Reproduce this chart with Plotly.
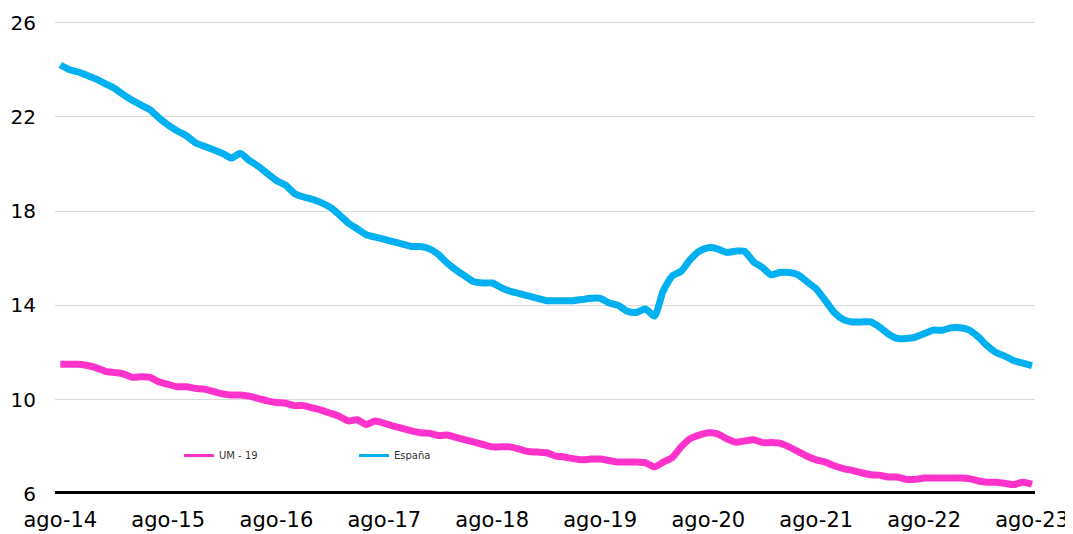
import pandas as pd
import plotly.graph_objects as go

# Monthly series, ago-14 .. ago-23 (109 points)
months = pd.date_range("2014-08-01", "2023-08-01", freq="MS")

espana = [
    24.2, 24.0, 23.9, 23.75, 23.6, 23.4, 23.2, 22.95, 22.7, 22.5, 22.3, 21.95,
    21.65, 21.4, 21.2, 20.9, 20.75, 20.6, 20.45, 20.25, 20.45, 20.15, 19.9, 19.6,
    19.3, 19.1, 18.75, 18.6, 18.5, 18.35, 18.15, 17.85, 17.5, 17.25, 17.0, 16.9,
    16.8, 16.7, 16.6, 16.5, 16.5, 16.4, 16.15, 15.8, 15.5, 15.25, 15.0, 14.95,
    14.95, 14.75, 14.6, 14.5, 14.4, 14.3, 14.2, 14.2, 14.2, 14.2, 14.25, 14.3,
    14.3, 14.1, 14.0, 13.75, 13.7, 13.85, 13.55, 14.6, 15.25, 15.45, 15.95, 16.3,
    16.45, 16.4, 16.25, 16.3, 16.3, 15.85, 15.6, 15.3, 15.4, 15.4, 15.3, 15.0,
    14.7, 14.2, 13.7, 13.4, 13.3, 13.3, 13.3, 13.1, 12.8, 12.6, 12.6, 12.65,
    12.8, 12.95, 12.95, 13.05, 13.05, 12.95, 12.65, 12.3, 12.0, 11.85, 11.65, 11.55,
    11.45,
]

um19 = [
    11.5, 11.5, 11.5, 11.45, 11.35, 11.2, 11.15, 11.1, 10.95, 10.97, 10.95, 10.75,
    10.65, 10.55, 10.55, 10.48, 10.45, 10.35, 10.25, 10.2, 10.2, 10.15, 10.05, 9.95,
    9.88, 9.85, 9.75, 9.75, 9.65, 9.55, 9.42, 9.3, 9.1, 9.15, 8.95, 9.1,
    9.0, 8.88, 8.78, 8.68, 8.6, 8.58, 8.48, 8.5, 8.4, 8.3, 8.2, 8.1,
    8.0, 8.0, 8.0, 7.9, 7.8, 7.78, 7.75, 7.62, 7.57, 7.5, 7.45, 7.48,
    7.48, 7.42, 7.36, 7.36, 7.36, 7.33, 7.15, 7.35, 7.55, 8.0, 8.35, 8.5,
    8.6, 8.55, 8.35, 8.2, 8.25, 8.3, 8.18, 8.18, 8.15, 8.0, 7.8, 7.6,
    7.45, 7.35, 7.2, 7.08, 7.0, 6.9, 6.82, 6.8, 6.72, 6.72, 6.62, 6.62,
    6.68, 6.68, 6.68, 6.68, 6.68, 6.65, 6.55, 6.5, 6.5, 6.45, 6.4, 6.5,
    6.42,
]

tick_dates = months[::12]
tick_labels = ["ago-14", "ago-15", "ago-16", "ago-17", "ago-18",
               "ago-19", "ago-20", "ago-21", "ago-22", "ago-23"]
y_ticks = [6, 10, 14, 18, 22, 26]

PINK = "#FF33CC"
BLUE = "#00B0F0"
GRID = "#D9D9D9"
FONT = "DejaVu Sans, Verdana, sans-serif"

series = [("UM - 19", um19, PINK), ("España", espana, BLUE)]

fig = go.Figure()
for name, values, color in series:
    fig.add_trace(go.Scatter(
        x=months, y=values, name=name, mode="lines", showlegend=False,
        line=dict(color=color, width=7, shape="spline", smoothing=0.6),
    ))
# thin legend keys, as in the original chart
for name, _, color in series:
    fig.add_trace(go.Scatter(
        x=[None], y=[None], name=name, mode="lines",
        line=dict(color=color, width=3),
    ))

# the thick baseline at the bottom of the value axis
fig.add_shape(type="line", xref="paper", x0=0, x1=1, yref="y", y0=6, y1=6,
              line=dict(color="black", width=6))

fig.update_layout(
    width=1073, height=534,
    paper_bgcolor="white", plot_bgcolor="white",
    font=dict(family=FONT, size=20, color="black"),
    margin=dict(l=47, r=46, t=11, b=48),
    showlegend=True,
    legend=dict(
        orientation="h", x=0.1265, y=0.081, xanchor="left", yanchor="middle",
        font=dict(size=10, color="#333333"), bgcolor="rgba(0,0,0,0)",
        entrywidth=130, entrywidthmode="pixels",
    ),
    xaxis=dict(
        range=[pd.Timestamp("2014-07-14"), pd.Timestamp("2023-08-11")],
        tickvals=tick_dates, ticktext=tick_labels,
        showgrid=False, zeroline=False, showline=False, automargin=False,
        ticks="", tickfont=dict(size=21), ticklabelstandoff=11,
    ),
    # a little headroom above 26 so its gridline is drawn
    yaxis=dict(
        range=[6, 26.15], tickvals=y_ticks,
        showgrid=True, gridcolor=GRID, gridwidth=1,
        zeroline=False, showline=False, ticks="", automargin=False,
        tickfont=dict(size=20), ticklabelstandoff=18,
    ),
)

fig.write_html("out.html")
